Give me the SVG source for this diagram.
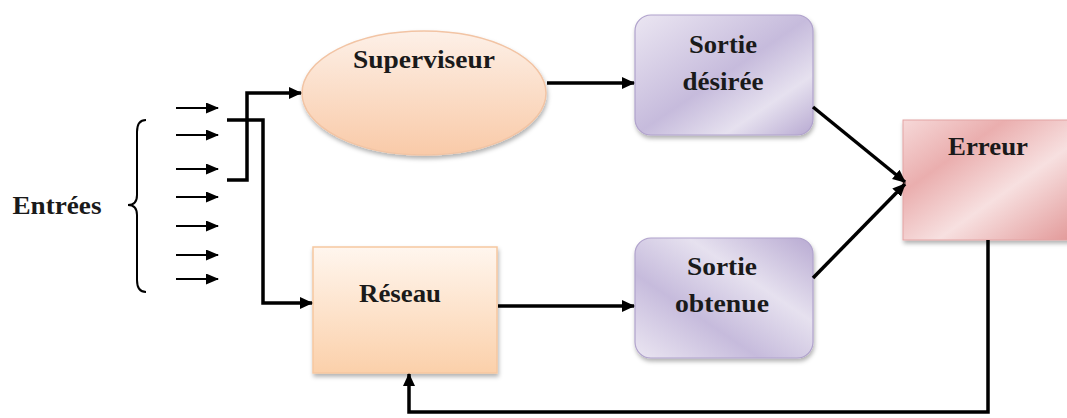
<svg xmlns="http://www.w3.org/2000/svg" width="1067" height="418" viewBox="0 0 1067 418">
<style>
.t{font-family:"Liberation Serif","Times New Roman",serif;font-weight:bold;font-size:26px;fill:#1a1a1a;text-anchor:middle}
.c{fill:none;stroke:#000;stroke-width:3.5;stroke-linejoin:miter}
.s{fill:none;stroke:#000;stroke-width:2}
</style>
<defs>
<marker id="ah" markerUnits="userSpaceOnUse" markerWidth="14" markerHeight="12" refX="12" refY="6" orient="auto">
<path d="M0,0 L13,6 L0,12 Z" fill="#000"/>
</marker>
<marker id="as" markerUnits="userSpaceOnUse" markerWidth="13" markerHeight="11" refX="12" refY="5.5" orient="auto">
<path d="M0,0 L13,5.5 L0,11 Z" fill="#000"/>
</marker>
<linearGradient id="gEll" x1="0" y1="0" x2="0" y2="1">
<stop offset="0" stop-color="#fdf0e7"/>
<stop offset="1" stop-color="#f9caa8"/>
</linearGradient>
<linearGradient id="gRes" x1="0" y1="0" x2="0" y2="1">
<stop offset="0" stop-color="#fff6ee"/>
<stop offset="1" stop-color="#fbd0aa"/>
</linearGradient>
<linearGradient id="gSor" x1="0" y1="0" x2="1" y2="1">
<stop offset="0" stop-color="#ebe6f2"/>
<stop offset="0.5" stop-color="#c6bbdc"/>
<stop offset="0.75" stop-color="#e6e1ef"/>
<stop offset="1" stop-color="#b8aad2"/>
</linearGradient>
<linearGradient id="gSor2" x1="1" y1="0" x2="0" y2="1">
<stop offset="0" stop-color="#b8aad2"/>
<stop offset="0.35" stop-color="#e6e1ef"/>
<stop offset="0.65" stop-color="#c6bbdc"/>
<stop offset="1" stop-color="#ebe6f2"/>
</linearGradient>
<linearGradient id="gErr" x1="0" y1="0" x2="1" y2="1">
<stop offset="0" stop-color="#f6d8d8"/>
<stop offset="0.3" stop-color="#eaaeae"/>
<stop offset="0.6" stop-color="#f7e0e0"/>
<stop offset="1" stop-color="#e29898"/>
</linearGradient>
<filter id="sh" x="-10%" y="-10%" width="125%" height="125%">
<feDropShadow dx="1" dy="3" stdDeviation="2" flood-color="#000" flood-opacity="0.3"/>
</filter>
</defs>

<g id="entrees">
<text class="t" x="57" y="214" textLength="89" lengthAdjust="spacingAndGlyphs">Entrées</text>
<path class="s" stroke-width="3" d="M146,120 Q137,120 137,132 L137,195 Q137,205 128,205 Q137,205 137,215 L137,280 Q137,292 146,292"/>
<g>
<line class="s" x1="176" y1="108" x2="218" y2="108" marker-end="url(#as)"/>
<line class="s" x1="176" y1="135" x2="218" y2="135" marker-end="url(#as)"/>
<line class="s" x1="176" y1="169" x2="218" y2="169" marker-end="url(#as)"/>
<line class="s" x1="176" y1="197" x2="218" y2="197" marker-end="url(#as)"/>
<line class="s" x1="176" y1="226" x2="218" y2="226" marker-end="url(#as)"/>
<line class="s" x1="176" y1="255" x2="218" y2="255" marker-end="url(#as)"/>
<line class="s" x1="176" y1="279" x2="218" y2="279" marker-end="url(#as)"/>
</g>
</g>

<g id="superviseur">
<ellipse cx="424" cy="93" rx="122" ry="62" fill="url(#gEll)" stroke="#f2c4a4" stroke-width="1.5" filter="url(#sh)"/>
<text class="t" x="424" y="68" textLength="142" lengthAdjust="spacingAndGlyphs">Superviseur</text>
</g>

<g id="reseau">
<rect x="313" y="247" width="184" height="126" fill="url(#gRes)" stroke="#f6c7a0" stroke-width="1.5" filter="url(#sh)"/>
<text class="t" x="400" y="302" textLength="82" lengthAdjust="spacingAndGlyphs">Réseau</text>
</g>

<g id="sortie-desiree">
<rect x="635" y="15" width="178" height="120" rx="16" fill="url(#gSor)" stroke="#b0a2cc" stroke-width="1.2" filter="url(#sh)"/>
<text class="t" x="723" y="53" textLength="68" lengthAdjust="spacingAndGlyphs">Sortie</text>
<text class="t" x="723" y="90" textLength="81" lengthAdjust="spacingAndGlyphs">désirée</text>
</g>

<g id="sortie-obtenue">
<rect x="635" y="238" width="178" height="120" rx="16" fill="url(#gSor2)" stroke="#b0a2cc" stroke-width="1.2" filter="url(#sh)"/>
<text class="t" x="722" y="275" textLength="70" lengthAdjust="spacingAndGlyphs">Sortie</text>
<text class="t" x="722" y="312" textLength="94" lengthAdjust="spacingAndGlyphs">obtenue</text>
</g>

<g id="erreur">
<rect x="903" y="120" width="170" height="120" fill="url(#gErr)" stroke="#e3a3a3" stroke-width="1" filter="url(#sh)"/>
<text class="t" x="988" y="155" textLength="80" lengthAdjust="spacingAndGlyphs">Erreur</text>
</g>

<g id="connectors">
<path class="c" d="M227,120 L263,120 L263,303 L312,303" marker-end="url(#ah)"/>
<path class="c" d="M227,180 L247,180 L247,93 L301,93" marker-end="url(#ah)"/>
<path class="c" d="M547,83 L634,83" marker-end="url(#ah)"/>
<path class="c" d="M498,306 L634,306" marker-end="url(#ah)"/>
<path class="c" d="M813,107 L905,182" marker-end="url(#ah)"/>
<path class="c" d="M813,278 L905,184" marker-end="url(#ah)"/>
<path class="c" d="M988,240 L988,412 L409,412 L409,374" marker-end="url(#ah)"/>
</g>
</svg>
